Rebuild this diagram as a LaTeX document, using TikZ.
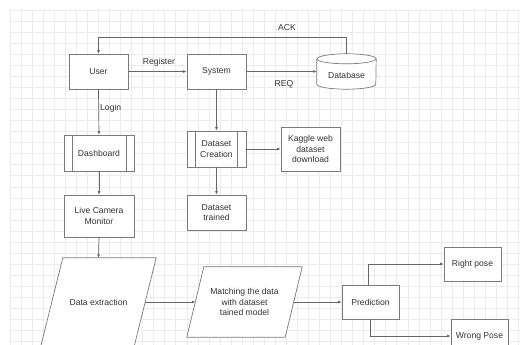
\documentclass[tikz,border=0pt]{standalone}
\usepackage{fontspec}
\setmainfont{Liberation Sans}
\usetikzlibrary{arrows.meta,calc}
\definecolor{gridc}{HTML}{EBEBEB}
\definecolor{linec}{HTML}{666666}
\definecolor{boxc}{HTML}{7A7A7A}
\definecolor{txtc}{HTML}{333333}
\tikzset{
  box/.style={draw=boxc, line width=0.7pt, fill=white, rectangle, inner sep=1pt, align=center, text=txtc, font=\fontsize{8.6}{10.5}\selectfont},
  ghost/.style={rectangle, inner sep=1pt, align=center, text=txtc, font=\fontsize{8.6}{10.5}\selectfont},
  arr/.style={draw=linec, line width=0.7pt, -{Latex[length=3.5pt,width=3pt]}},
  lbl/.style={text=txtc, font=\fontsize{8.6}{10.5}\selectfont, inner sep=0pt},
}
\begin{document}
\begin{tikzpicture}[x=1pt,y=-1pt]
\useasboundingbox (0,0) rectangle (520,345);
\clip (0,0) rectangle (520,345);
\fill[white] (0,0) rectangle (520,345);
% grid
\foreach \i in {0,...,46} {
  \draw[gridc, line width=0.6pt] ({10+\i*11.05},10) -- ({10+\i*11.05},345);
}
\foreach \j in {0,...,30} {
  \draw[gridc, line width=0.6pt] (10,{10+\j*11.05}) -- (520,{10+\j*11.05});
}
% nodes
\node[box, minimum width=59pt, minimum height=35pt] (user) at (98.5,71.5) {User};
\node[box, minimum width=59pt, minimum height=35pt] (sys) at (216.5,71.5) {System};
\node[ghost, minimum width=59pt, minimum height=35pt] (db) at (346.5,71.5) {};
\node[box, minimum width=70pt, minimum height=36pt] (dash) at (99,153) {Dashboard};
\node[box, minimum width=59pt, minimum height=36pt] (dsc) at (216.5,149) {Dataset\\Creation};
\node[box, minimum width=59pt, minimum height=44pt] (kag) at (310.5,149) {Kaggle web\\dataset\\download};
\node[box, minimum width=70pt, minimum height=42pt] (live) at (99,216) {Live Camera\\Monitor};
\node[box, minimum width=59pt, minimum height=35pt] (dst) at (216.5,212.5) {Dataset\\trained};
\node[ghost, minimum width=93pt, minimum height=88pt] (dext) at (98.5,302) {};
\node[ghost, minimum width=98pt, minimum height=70pt] (mat) at (244.5,302) {};
\node[box, minimum width=57pt, minimum height=34pt] (pred) at (370.5,302) {Prediction};
\node[box, minimum width=57pt, minimum height=34pt] (right) at (472.5,264) {Right pose};
\node[box, minimum width=57pt, minimum height=34pt] (wrong) at (479.5,336) {Wrong Pose};
% database cylinder
\draw[draw=boxc, line width=0.7pt, fill=white]
  ($(db.north west)+(0,5)$) -- ($(db.south west)+(0,-5)$)
  arc[start angle=180, end angle=360, x radius=29.5, y radius=-5]
  -- ($(db.north east)+(0,5)$)
  arc[start angle=0, end angle=180, x radius=29.5, y radius=-5];
\draw[draw=boxc, line width=0.7pt]
  ($(db.north west)+(0,5)$) arc[start angle=180, end angle=360, x radius=29.5, y radius=-5];
\node[lbl] at (346.5,75) {Database};
% subprocess lines
\foreach \n/\d in {dash/8.5, dsc/9} {
  \draw[boxc, line width=0.7pt] ($(\n.north west)+(\d,0)$) -- ($(\n.south west)+(\d,0)$);
  \draw[boxc, line width=0.7pt] ($(\n.north east)+(-\d,0)$) -- ($(\n.south east)+(-\d,0)$);
}
% parallelograms
\draw[draw=boxc, line width=0.7pt, fill=white]
  ($(dext.north west)+(11,0)$) -- ($(dext.north east)+(11,0)$) --
  ($(dext.south east)+(-11,0)$) -- ($(dext.south west)+(-11,0)$) -- cycle;
\node[lbl] at (dext.center) {Data extraction};
\draw[draw=boxc, line width=0.7pt, fill=white]
  ($(mat.north west)+(8.5,0)$) -- ($(mat.north east)+(8.5,0)$) --
  ($(mat.south east)+(-8.5,0)$) -- ($(mat.south west)+(-8.5,0)$) -- cycle;
\node[lbl, align=center] at (mat.center) {Matching the data\\with dataset\\tained model};
% connectors
\coordinate (ackc) at (98.5,37);
\draw[arr] (user.east) -- (sys.west);
\node[lbl] at (159,62) {Register};
\draw[arr] (sys.east) -- (db.west);
\node[lbl] at (284,84) {REQ};
\draw[arr] (db.north) |- (ackc) -- (user.north);
\node[lbl] at (287,28) {ACK};
\draw[arr] (user.south) -- (dash.north);
\node[lbl, anchor=west] at (100,108) {Login};
\draw[arr] (sys.south) -- (dsc.north);
\draw[arr] (dsc.east) -- (kag.west);
\draw[arr] (dsc.south) -- (dst.north);
\draw[arr] (dash.south) -- (live.north);
\draw[arr] (live.south) -- (dext.north);
\draw[arr] (dext.east) -- (mat.west);
\draw[arr] (mat.east) -- (pred.west);
\draw[arr] ($(pred.north)+(-2,0)$) |- (right.west);
\draw[arr] (pred.south) |- (wrong.west);
\end{tikzpicture}
\end{document}
